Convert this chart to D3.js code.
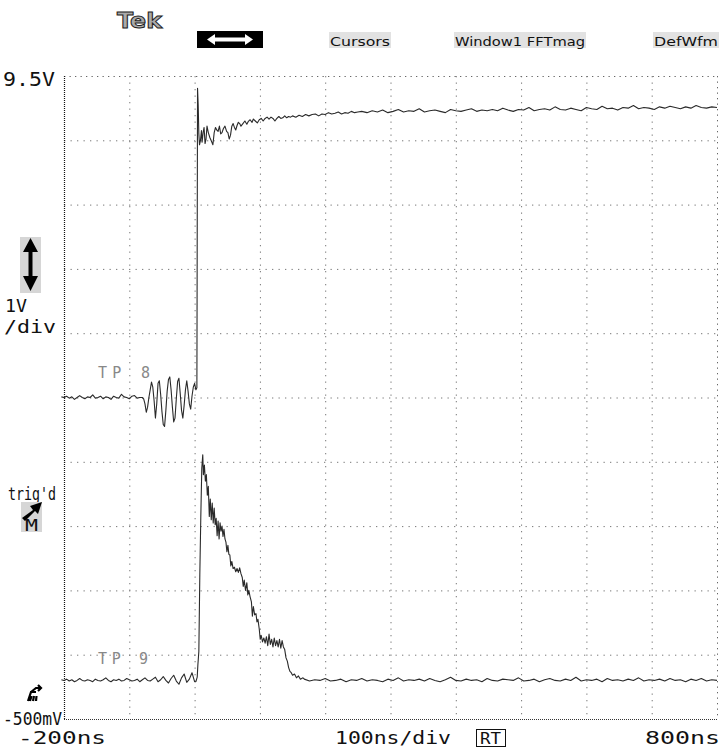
<!DOCTYPE html>
<html><head><meta charset="utf-8">
<script src="https://cdn.jsdelivr.net/npm/d3@7"></script>
<style>
html,body{margin:0;padding:0;background:#fff;}
svg{display:block;}
</style></head>
<body>
<svg id="chart" width="722" height="749"></svg>
<script>
// ---- axis / tick definitions ----
const timeDomain = [-200, 800];           // ns
const voltDomain = [-0.5, 9.5];           // V
const timeGrid = [-100, 0, 100, 200, 300, 400, 500, 600, 700];
const voltGrid = [0.5, 1.5, 2.5, 3.5, 4.5, 5.5, 6.5, 7.5, 8.5];
const menuLabels = ["Cursors", "Window1 FFTmag", "DefWfm"];
const bottomLabels = ["-200ns", "100ns/div", "800ns"];
const traceNames = ["TP 8", "TP 9"];

// ---- TP8 (channel 1) ----
const tp8BaseStart = -204, tp8BaseStep = 4;
const tp8BaseV = [4.51,4.50,4.52,4.49,4.51,4.47,4.50,4.53,4.50,4.48,4.51,
                  4.50,4.54,4.49,4.50,4.52,4.48,4.51,4.50,4.47,4.52,
                  4.50,4.49,4.55,4.51,4.50,4.48,4.52,4.53,4.49,4.50];
const tp8EdgeT = [-80,-78,-76,-74,-72,-70,-68,-66,-64,-62,-60,-58,-56,-54,-52,-50,-48,-46,-44,-42,
                  -40,-38,-36,-34,-32,-30,-28,-26,-24,-22,-20,-18,-16,-14,-12,-10,-8,-6,-4,-2,0,2,3.5,
                  4.5,5.5,6.5,7.5,9,10.5,11.5,13,14.5,16,17.5,19,21,23.5,26,28,30,32,34,36,38,40,42,44,46.5,
                  49,51,53,55,57,59,61,63,65,67,69,71,74,77,80,82,85,88,90,93,96,99,102,105,108,111,114,117,
                  120,123,126,129,132,135,138,141,144,147,150,155,160,165,170,175,180,185,190,195,200,205,
                  210,215,220,225,230,235,240,245,250];
const tp8EdgeV = [4.50,4.48,4.40,4.27,4.35,4.50,4.62,4.74,4.66,4.45,4.18,4.40,4.72,4.76,4.55,4.28,4.08,4.05,4.30,4.60,
                  4.78,4.82,4.62,4.35,4.12,4.18,4.48,4.75,4.80,4.56,4.30,4.18,4.38,4.62,4.76,4.60,4.40,4.32,4.52,4.66,4.72,4.62,4.65,
                  9.31,9.05,8.60,8.43,8.50,8.65,8.47,8.62,8.70,8.45,8.52,8.72,8.62,8.54,8.48,8.43,8.62,8.70,8.66,8.64,8.72,8.60,8.62,8.68,8.72,
                  8.64,8.62,8.52,8.58,8.72,8.76,8.70,8.66,8.73,8.78,8.76,8.72,8.76,8.80,8.75,8.79,8.82,8.78,8.83,8.80,8.77,8.82,8.84,8.80,8.84,8.86,8.83,8.86,
                  8.84,8.80,8.84,8.87,8.84,8.85,8.88,8.85,8.87,8.86,8.88,8.86,8.89,8.87,8.90,8.88,8.90,8.91,8.88,8.91,8.90,8.93,
                  8.91,8.92,8.94,8.91,8.93,8.92,8.95,8.93,8.94];
const tp8TailStart = 256, tp8TailStep = 8;
const tp8TailV = [8.95,8.93,8.96,8.94,8.97,8.93,8.95,8.98,8.94,8.96,
                  8.95,8.99,8.94,8.96,8.97,8.95,8.93,8.98,8.96,8.95,
                  8.97,8.99,8.95,8.97,8.96,8.98,8.96,9.00,8.97,8.95,
                  8.98,8.97,9.01,8.96,8.98,8.99,8.97,9.02,8.98,8.97,
                  9.00,8.98,8.96,9.01,8.99,8.98,9.03,8.99,9.00,8.97,
                  9.01,9.00,9.04,8.99,9.01,9.00,8.98,9.02,9.00,9.03,
                  9.01,8.99,9.02,9.00,9.04,9.01,9.00,9.02,9.01];

// ---- TP9 (channel 2) ----
const tp9BaseStart = -204, tp9BaseStep = 4;
const tp9BaseV = [0.11,0.10,0.12,0.09,0.11,0.08,0.10,0.13,0.10,0.09,0.11,
                  0.10,0.08,0.12,0.10,0.09,0.11,0.14,0.10,0.08,0.11,
                  0.10,0.12,0.09,0.10,0.13,0.11,0.09,0.10,0.12,0.08,
                  0.11,0.14,0.10,0.09,0.12,0.15,0.08,0.11,0.16,0.10,
                  0.06,0.13,0.18,0.09,0.04,0.14,0.20,0.07,0.12,0.22,0.08];
const tp9PulseT = [2,4,5,6.5,8,9.5,11,12.5,13.5,15,16.5,18,19.5,21,22.5,24,25.5,27,28.5,30,31.5,33,34.5,36,37.5,39,
                   40.5,42,43.5,45,46.5,48,49.5,51,52.5,54,55.5,57,59,61,63,65,67,69,71,73,74.5,76,78,80,81.5,83,85,87,
                   88.5,90,92,94,95.5,97,99,100.5,102,104,106,108,110,112,114,116,118,120,122,124,126,128,130,132,134,
                   136,138,140,142,144,146,148,150,153,156,159,162,166];
const tp9PulseV = [0.08,0.15,0.34,0.55,1.75,2.64,3.40,3.61,3.30,3.45,3.20,3.30,2.98,3.12,2.65,2.92,2.60,2.86,2.55,2.78,2.52,2.62,2.35,2.58,2.30,2.55,
                   2.42,2.50,2.34,2.45,2.30,2.25,2.10,2.20,2.06,2.05,1.88,1.95,1.84,1.86,1.79,1.84,1.78,1.85,1.76,1.70,1.56,1.66,1.50,1.62,1.43,1.50,1.40,1.32,
                   1.10,1.25,1.12,1.14,1.01,1.05,0.90,0.74,0.80,0.70,0.76,0.68,0.78,0.64,0.82,0.66,0.74,0.62,0.76,0.64,0.72,0.62,0.74,0.60,0.72,
                   0.62,0.58,0.45,0.40,0.30,0.24,0.22,0.18,0.20,0.14,0.17,0.12,0.14];
const tp9TailStart = 168, tp9TailStep = 8;
const tp9TailV = [0.12,0.09,0.11,0.10,0.13,0.09,0.10,0.12,0.08,0.11,
                  0.10,0.13,0.09,0.11,0.10,0.08,0.12,0.10,0.14,0.09,
                  0.11,0.10,0.12,0.09,0.13,0.10,0.08,0.11,0.15,0.10,
                  0.09,0.12,0.10,0.11,0.08,0.13,0.10,0.09,0.12,0.11,
                  0.10,0.14,0.09,0.10,0.12,0.08,0.11,0.13,0.10,0.09,
                  0.12,0.10,0.15,0.09,0.11,0.10,0.12,0.08,0.13,0.10,
                  0.11,0.09,0.12,0.10,0.14,0.09,0.11,0.10,0.12,0.09,
                  0.13,0.10,0.11,0.08,0.12,0.10,0.13,0.09,0.11,0.10];

// ---- build point lists ----
function uniform(start, step, vals){ return vals.map((v,i)=>({t:start+i*step, v})); }
function paired(ts, vs){ return ts.map((t,i)=>({t, v:vs[i]})); }
const tp8 = [].concat(uniform(tp8BaseStart,tp8BaseStep,tp8BaseV), paired(tp8EdgeT,tp8EdgeV), uniform(tp8TailStart,tp8TailStep,tp8TailV));
const tp9 = [].concat(uniform(tp9BaseStart,tp9BaseStep,tp9BaseV), paired(tp9PulseT,tp9PulseV), uniform(tp9TailStart,tp9TailStep,tp9TailV));

const svg = d3.select("#chart");
const L = 64, R = 717, T = 76, B = 719;
const x = d3.scaleLinear().domain(timeDomain).range([L, R]);
const y = d3.scaleLinear().domain(voltDomain).range([B, T]);

// ---- grid ----
const g = svg.append("g");
g.selectAll("line.vg").data(timeGrid).join("line")
  .attr("x1", d=>x(d)+0.5).attr("x2", d=>x(d)+0.5).attr("y1", T).attr("y2", B)
  .attr("stroke", "#777").attr("stroke-width", 1).attr("stroke-dasharray", "1.3,5.2");
g.selectAll("line.hg").data(voltGrid).join("line")
  .attr("y1", d=>y(d)+0.5).attr("y2", d=>y(d)+0.5).attr("x1", L).attr("x2", R)
  .attr("stroke", "#777").attr("stroke-width", 1).attr("stroke-dasharray", "1.3,5.2");
// frame
g.append("line").attr("x1",L).attr("x2",R).attr("y1",T+0.5).attr("y2",T+0.5)
  .attr("stroke","#666").attr("stroke-dasharray","1.3,4.2");
g.append("line").attr("x1",R+0.5).attr("x2",R+0.5).attr("y1",T).attr("y2",B)
  .attr("stroke","#666").attr("stroke-dasharray","1.3,4.2");
g.append("line").attr("x1",L).attr("x2",R).attr("y1",B+0.5).attr("y2",B+0.5)
  .attr("stroke","#333").attr("stroke-dasharray","1,1");
g.append("line").attr("x1",L+0.5).attr("x2",L+0.5).attr("y1",T).attr("y2",B)
  .attr("stroke","#111").attr("stroke-width",1.2).attr("stroke-dasharray","1,1");

// ---- traces ----
const line = d3.line().x(d=>x(d.t)).y(d=>y(d.v));
[tp8, tp9].forEach(data=>{
  svg.append("path").datum(data).attr("d", line)
    .attr("fill","none").attr("stroke","#2a2a2a").attr("stroke-width",1.1)
    .attr("stroke-linejoin","round");
});

// ---- trace labels ----
const mono = "'DejaVu Sans Mono', monospace";
svg.append("text").attr("x",98).attr("y",378).text(traceNames[0])
  .attr("font-family",mono).attr("font-size",15).attr("fill","#888").attr("textLength",52).attr("lengthAdjust","spacing");
svg.append("text").attr("x",98).attr("y",664).text(traceNames[1])
  .attr("font-family",mono).attr("font-size",15).attr("fill","#888").attr("textLength",50).attr("lengthAdjust","spacing");

// ---- header ----
svg.append("text").attr("x",117).attr("y",28).text("Tek")
  .attr("font-family","'DejaVu Sans', sans-serif").attr("font-weight","bold").attr("font-size",22)
  .attr("fill","#aaa").attr("stroke","#222").attr("stroke-width",1).attr("textLength",45).attr("lengthAdjust","spacingAndGlyphs");
svg.append("rect").attr("x",197).attr("y",31).attr("width",66).attr("height",17).attr("fill","#000");
svg.append("path").attr("d","M207,39.5 L215,34 L215,37.5 L245,37.5 L245,34 L253,39.5 L245,45 L245,41.5 L215,41.5 L215,45 Z").attr("fill","#fff");

const menuX = [330, 455, 654], menuW = [60, 130, 64];
menuLabels.forEach((s,i)=>{
  svg.append("rect").attr("x",menuX[i]-1).attr("y",32).attr("width",menuW[i]+2).attr("height",16).attr("fill","#e2e2e2");
  svg.append("text").attr("x",menuX[i]).attr("y",46).text(s)
    .attr("font-family","'DejaVu Sans Condensed','Liberation Sans Narrow',sans-serif").attr("font-size",13)
    .attr("fill","#111").attr("textLength",menuW[i]).attr("lengthAdjust","spacingAndGlyphs");
});

// ---- left labels ----
function lbl(s, xx, yy, size, len){
  return svg.append("text").attr("x",xx).attr("y",yy).text(s).attr("font-family",mono)
    .attr("font-size",size).attr("fill","#111").attr("textLength",len).attr("lengthAdjust","spacingAndGlyphs");
}
lbl("9.5V", 3, 86, 20, 52);
lbl("1V", 5, 312, 17, 22);
lbl("/div", 4, 333, 17, 52);
lbl("trig'd", 8, 500, 17, 48);
lbl("-500mV", 3, 725, 18, 59);
lbl(bottomLabels[0], 18, 744, 18, 88);
lbl(bottomLabels[1], 335, 744, 18, 116);
lbl(bottomLabels[2], 645, 744, 18, 75);
svg.append("rect").attr("x",476.5).attr("y",729.5).attr("width",29).attr("height",17).attr("fill","none").attr("stroke","#111");
lbl("RT", 480, 744, 15, 21);

// up/down arrow icon
svg.append("rect").attr("x",20).attr("y",237).attr("width",21).attr("height",56).attr("fill","#d6d6d6");
svg.append("path").attr("d","M30.5,238 L38,252 L32.5,252 L32.5,276 L38,276 L30.5,291 L23,276 L28.5,276 L28.5,252 L23,252 Z").attr("fill","#000");
// trigger icon
svg.append("rect").attr("x",21).attr("y",502).attr("width",21).attr("height",30).attr("fill","#d6d6d6");
svg.append("path").attr("d","M22,518 L33,510 L30,506 L42,502 L38,514 L35,511 L25,521 Z").attr("fill","#000");
lbl("M", 25, 531, 16, 13);
// ground icon
svg.append("path").attr("d","M28,701 L31,692 L36,692 M31.5,696 L30,701 M34,696 L33,701 M36.5,696 L36,701 M31,692 L36,688 L40,688 M38,685 L41,688 L38,691")
  .attr("fill","none").attr("stroke","#000").attr("stroke-width",2.2);
</script>
</body></html>
